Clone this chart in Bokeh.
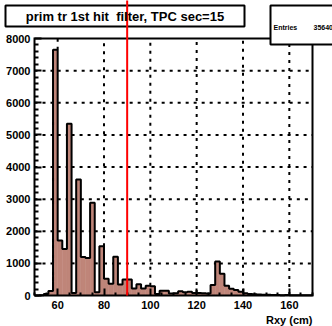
from bokeh.plotting import figure
from bokeh.models import FixedTicker, Range1d
from bokeh.core.properties import value
from bokeh.embed import file_html
from bokeh.resources import INLINE

# ---- data -------------------------------------------------------------
bin_edges = [50, 52, 54, 56, 58, 60, 62, 64, 66, 68, 70, 72, 74, 76, 78, 80,
             82, 84, 86, 88, 90, 92, 94, 96, 98, 100, 102, 104, 106, 108, 110,
             112, 114, 116, 118, 120, 122, 124, 126, 128, 130, 132, 134, 136,
             138, 140, 142, 144, 146, 148, 150, 152, 154, 156, 158, 160, 162,
             164, 166, 168, 170]
counts = [0, 5, 50, 140, 7650, 1710, 1450, 5350, 80, 3610, 1200, 1170, 2890,
          100, 1530, 520, 365, 1210, 340, 500, 500, 220, 350, 220, 300, 290,
          50, 150, 150, 60, 70, 135, 100, 115, 80, 80, 70, 60, 330, 1060, 680,
          300, 210, 170, 120, 70, 50, 40, 35, 25, 20, 15, 15, 10, 12, 8, 10,
          6, 5, 4]
x_ticks = [60, 80, 100, 120, 140, 160]
y_ticks = [0, 1000, 2000, 3000, 4000, 5000, 6000, 7000, 8000]
x_min, x_max = 50, 170
y_min, y_max = 0, 8000
x_minor_step = 5
y_minor_step = 200
cut_position = 90
title_text = "prim tr 1st hit \u00a0filter, TPC sec=15"
stats_label = "Entries"
stats_value = "35640"
x_label = "Rxy (cm)"

FONT = "Liberation Sans"
FILL = "#BF8579"
W, H = 332, 326
# target pixel box of the data area
FL, FR, FT, FB = 34, 312, 38, 295
sx = (FR - FL) / (x_max - x_min)
sy = (FB - FT) / (y_max - y_min)
xr = Range1d(x_min - FL / sx, x_max + (W - FR) / sx)
yr = Range1d(y_min - (H - FB) / sy, y_max + FT / sy)


def dx(px):  # page pixel -> data x
    return xr.start + px / sx


def dy(py):  # page pixel -> data y
    return yr.end - py / sy


p = figure(width=W, height=H, output_backend="svg", toolbar_location=None,
           x_range=xr, y_range=yr, title=None, min_border=0)
p.outline_line_color = None
p.xgrid.visible = False
p.ygrid.visible = False

# histogram fill
p.quad(left=bin_edges[:-1], right=bin_edges[1:], top=counts, bottom=0,
       fill_color=FILL, line_color=FILL, line_width=0.5)

# histogram outline (staircase)
xs, ys = [bin_edges[0]], [0]
for i, c in enumerate(counts):
    xs += [bin_edges[i], bin_edges[i + 1]]
    ys += [c, c]
xs.append(bin_edges[-1]); ys.append(0)
p.line(xs, ys, line_color="black", line_width=2)

# axes drawn at fixed data locations (no side-panel space)
x_minor = [v for v in range(x_min, x_max + 1, x_minor_step) if v not in x_ticks]
y_minor = [v for v in range(y_min, y_max + 1, y_minor_step) if v not in y_ticks]
p.xaxis.fixed_location = y_min
p.yaxis.fixed_location = x_min
p.xaxis.ticker = FixedTicker(ticks=x_ticks, minor_ticks=x_minor)
p.yaxis.ticker = FixedTicker(ticks=y_ticks, minor_ticks=y_minor)
for ax in (p.xaxis[0], p.yaxis[0]):
    ax.axis_line_color = None
    ax.major_tick_out = 0
    ax.minor_tick_out = 0
    ax.major_tick_line_color = "black"
    ax.minor_tick_line_color = "black"
    ax.major_tick_line_width = 2
    ax.minor_tick_line_width = 2
    ax.major_label_text_font = FONT
    ax.major_label_text_font_style = "bold"
    ax.major_label_text_color = "black"
    ax.major_label_text_font_size = "11px"
p.xaxis.major_tick_in = 7
p.xaxis.minor_tick_in = 3
p.yaxis.major_tick_in = 7
p.yaxis.minor_tick_in = 4
p.xaxis.major_label_standoff = 5
p.yaxis.major_label_standoff = 4

OV = dict(level="overlay")
txt = dict(text_font=value(FONT), text_font_style="bold", text_color="black", **OV)

# dotted grid: only the parts that lie above the histogram bars
gx0, gx1, gy0, gy1 = [], [], [], []
for t in x_ticks:
    under = [counts[i] for i in range(len(counts))
             if bin_edges[i] <= t <= bin_edges[i + 1]]
    gx0.append(t); gx1.append(t); gy0.append(max(under)); gy1.append(y_max)
for level in [v for v in y_ticks if y_min < v < y_max]:
    start = None
    for i, c in enumerate(counts):
        if c < level and start is None:
            start = bin_edges[i]
        elif c >= level and start is not None:
            gx0.append(start); gx1.append(bin_edges[i]); gy0.append(level); gy1.append(level)
            start = None
    if start is not None:
        gx0.append(start); gx1.append(bin_edges[-1]); gy0.append(level); gy1.append(level)
p.segment(x0=gx0, x1=gx1, y0=gy0, y1=gy1, line_color="black", line_width=2,
          line_dash="3 5", **OV)

# frame of the data area (line loop, no fill)
p.line(x=[x_min, x_max, x_max, x_min, x_min], y=[y_min, y_min, y_max, y_max, y_min],
       line_color="black", line_width=2, line_join="miter", **OV)

# title box
p.quad(left=[dx(5)], right=[dx(244)], top=[dy(5)], bottom=[dy(26)],
       fill_color="white", line_color="black", line_width=2, **OV)

# red cut line (over the title box)
p.segment(x0=[cut_position], x1=[cut_position], y0=[y_min], y1=[yr.end],
          line_color="red", line_width=2, **OV)

p.text(x=[dx(124.5)], y=[dy(15.5)], text=[title_text], text_align="center",
       text_baseline="middle", text_font_size="13px", **txt)

# stats box
p.quad(left=[dx(270)], right=[dx(345)], top=[dy(5)], bottom=[dy(44)],
       fill_color="white", line_color="black", line_width=2, **OV)
p.text(x=[dx(273)], y=[dy(27)], text=[stats_label], text_align="left",
       text_baseline="middle", text_font_size="7px", **txt)
p.text(x=[dx(313)], y=[dy(27)], text=[stats_value], text_align="left",
       text_baseline="middle", text_font_size="7px", **txt)

# x axis title
p.text(x=[dx(312)], y=[dy(325)], text=[x_label], text_align="right",
       text_baseline="bottom", text_font_size="11px", **txt)

open("out.html", "w").write(file_html(p, INLINE))
